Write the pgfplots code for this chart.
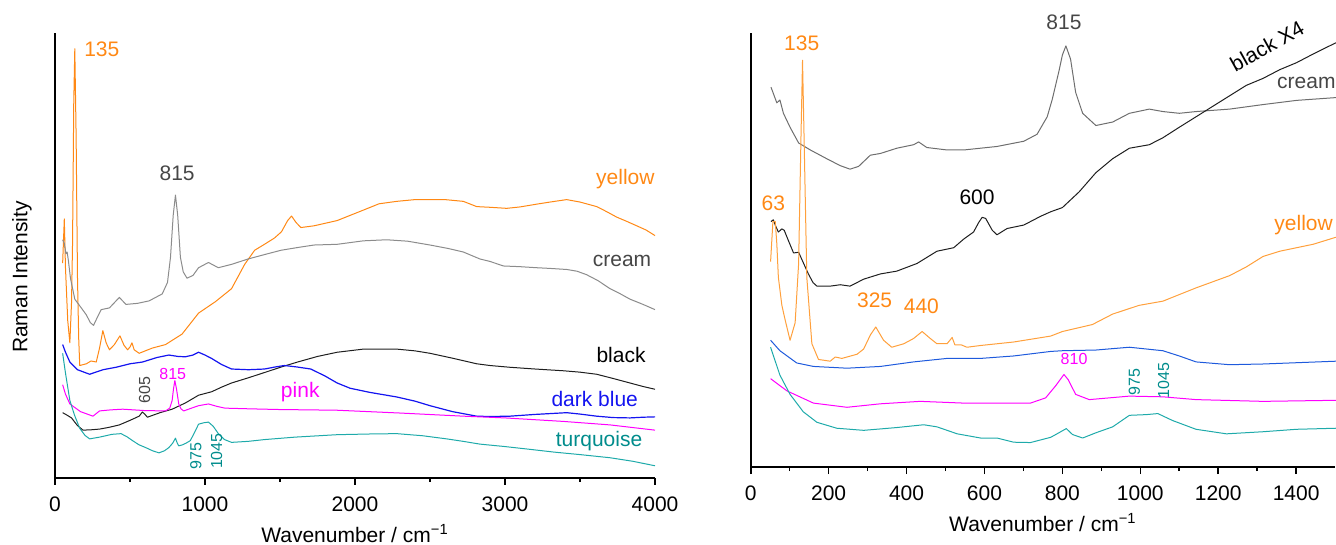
\documentclass[border=0pt]{standalone}
\usepackage{fontspec}
\setmainfont{Liberation Sans}
\usepackage{pgfplots}
\pgfplotsset{compat=1.18}
\newcommand\fa{\fontsize{10.5}{12.6}\selectfont}
\newcommand\fb{\fontsize{8}{9.6}\selectfont}
\definecolor{cor}{RGB}{255,136,20}
\definecolor{corl}{RGB}{255,160,60}
\definecolor{cgr}{RGB}{140,140,140}
\definecolor{cgr2}{RGB}{110,110,110}
\definecolor{cdg}{RGB}{70,70,70}
\definecolor{cbk}{RGB}{30,30,30}
\definecolor{cbl}{RGB}{20,20,240}
\definecolor{cbl2}{RGB}{30,90,220}
\definecolor{cpk}{RGB}{255,0,255}
\definecolor{ctl}{RGB}{30,170,170}
\definecolor{ctlt}{RGB}{0,140,140}
\pgfplotsset{
  myax/.style={
    anchor=south west, scale only axis, clip=false,
    axis x line=bottom, axis y line=left,
    axis line style={-, line width=0.8pt, black},
    ytick=\empty, tick align=outside,
    major tick length=3.5pt, minor tick length=2pt,
    every tick/.style={black, line width=0.8pt},
    minor x tick num=1,
    ticklabel style={font=\fa},
    xticklabel style={yshift=-2.5pt},
    /pgf/number format/assume math mode=true,
    /pgf/number format/set thousands separator={},
    xlabel style={font=\fa, at={(axis description cs:0.5,0)}, anchor=center, yshift=-28pt},
    xlabel={Wavenumber / cm\textsuperscript{−1}},
    every axis plot/.append style={line width=0.5pt, line join=round},
  }
}
\begin{document}
\begin{tikzpicture}
\path[use as bounding box] (0,0) rectangle (668pt,272.5pt);
\node[rotate=90, font=\fa] at (11pt,134pt) {Raman Intensity};
% ---------------- left panel
\begin{axis}[myax, at={(27.5pt,33.5pt)}, width=300pt, height=222.5pt,
  xmin=0, xmax=4000, ymin=0, ymax=1274, xtick={0,1000,2000,3000,4000}]
% yellow
\addplot[cor] coordinates {(51,615)(62,742)(70,600)(85,450)(99,387)(110,500)(117,672)(125,1072)(132,1229)(141,972)(150,572)(158,400)(165,322)(209,327)(240,335)(275,332)(297,372)(319,422)(341,387)(363,367)(396,382)(433,407)(460,380)(484,367)(500,375)(513,387)(528,367)(561,357)(649,372)(737,382)(847,412)(957,472)(1070,505)(1177,542)(1265,612)(1331,652)(1400,670)(1463,687)(1510,705)(1551,737)(1577,750)(1606,732)(1639,717)(1727,722)(1881,737)(2056,767)(2160,785)(2278,792)(2400,797)(2500,797)(2600,797)(2722,792)(2811,777)(2900,775)(3011,772)(3100,776)(3211,784)(3300,790)(3411,797)(3500,790)(3611,777)(3680,762)(3744,747)(3810,735)(3878,722)(3940,710)(4000,694)};
% cream
\addplot[cgr] coordinates {(51,682)(62,672)(73,642)(81,647)(90,620)(103,572)(132,512)(170,490)(209,467)(235,445)(257,437)(280,458)(308,482)(363,487)(429,517)(473,497)(550,500)(627,507)(715,527)(750,560)(770,632)(788,752)(803,810)(818,752)(836,632)(855,590)(880,572)(920,580)(957,602)(1023,617)(1089,602)(1180,612)(1287,627)(1400,640)(1507,652)(1620,660)(1727,667)(1881,669)(2056,679)(2211,682)(2350,678)(2500,667)(2622,657)(2722,647)(2833,627)(2900,620)(2989,607)(3100,605)(3211,602)(3300,600)(3411,597)(3480,592)(3544,582)(3620,565)(3700,542)(3770,527)(3833,512)(3920,497)(4000,482)};
% black
\addplot[cbk] coordinates {(51,187)(80,180)(110,172)(150,150)(187,137)(240,138)(297,140)(360,145)(429,152)(500,165)(561,177)(583,189)(600,182)(616,174)(700,187)(781,197)(870,215)(957,237)(1045,247)(1110,260)(1177,272)(1290,287)(1397,302)(1510,318)(1617,332)(1750,348)(1881,360)(2056,369)(2278,369)(2400,364)(2500,357)(2650,343)(2811,327)(2900,322)(3033,317)(3200,312)(3389,307)(3500,303)(3611,297)(3720,285)(3833,272)(3920,262)(4000,254)};
% dark blue
\addplot[cbl, line width=0.6pt] coordinates {(51,382)(70,360)(99,332)(150,310)(231,297)(320,310)(407,317)(500,327)(583,332)(680,345)(759,352)(820,348)(869,347)(920,352)(957,360)(1000,352)(1045,342)(1110,325)(1177,312)(1290,310)(1397,312)(1470,318)(1529,322)(1610,318)(1705,312)(1800,292)(1881,272)(1967,257)(2100,245)(2278,232)(2400,220)(2500,207)(2650,190)(2811,177)(2900,176)(3033,177)(3200,182)(3411,187)(3500,183)(3611,177)(3720,173)(3833,172)(3920,174)(4000,175)};
% pink
\addplot[cpk] coordinates {(51,267)(70,240)(99,212)(170,190)(253,177)(297,192)(370,195)(451,197)(600,193)(737,192)(765,200)(781,222)(790,255)(799,279)(810,255)(825,212)(840,198)(858,192)(910,200)(957,207)(1023,212)(1080,205)(1133,200)(1300,198)(1500,196)(1700,195)(1881,194)(2300,186)(2722,177)(3000,172)(3389,162)(3700,152)(4000,137)};
% turquoise
\addplot[ctl] coordinates {(51,357)(70,300)(99,222)(130,180)(165,142)(200,122)(231,112)(297,117)(380,125)(440,127)(480,118)(517,107)(560,95)(605,87)(650,78)(693,72)(730,78)(759,87)(785,100)(803,114)(815,100)(825,92)(850,95)(875,100)(902,107)(930,130)(957,154)(990,158)(1023,160)(1055,148)(1089,127)(1130,110)(1177,102)(1290,105)(1397,110)(1600,117)(1881,124)(2100,126)(2278,127)(2450,121)(2611,112)(2720,105)(2833,97)(3000,90)(3167,82)(3330,74)(3500,67)(3700,58)(3850,48)(4000,35)};
% labels
\node[cor, font=\fa] at (axis cs:312,1227) {135};
\node[cdg, font=\fa] at (axis cs:814,872) {815};
\node[cor, font=\fa, anchor=east] at (axis cs:4044,857) {yellow};
\node[cdg, font=\fa, anchor=east] at (axis cs:4022,622) {cream};
\node[black, font=\fa, anchor=east] at (axis cs:3984,352) {black};
\node[cbl, font=\fa, anchor=east] at (axis cs:3933,227) {dark blue};
\node[ctlt, font=\fa, anchor=east] at (axis cs:3962,107) {turquoise};
\node[cpk, font=\fa] at (axis cs:1635,245) {pink};
\node[cpk, font=\fb] at (axis cs:785,297) {815};
\node[cdg, font=\fb, rotate=90] at (axis cs:598,252) {605};
\node[ctlt, font=\fb, rotate=90] at (axis cs:939,62) {975};
\node[ctlt, font=\fb, rotate=90] at (axis cs:1078,77) {1045};
\end{axis}
% ---------------- right panel
\begin{axis}[myax, at={(375.35pt,39pt)}, width=292.2pt, height=217pt,
  xmin=0, xmax=1500, ymin=0, ymax=1243, xtick={0,200,...,1400}]
% cream
\addplot[cgr2] coordinates {(52,1088)(67,1043)(75,1051)(84,1013)(101,973)(123,928)(153,908)(195,883)(230,863)(255,853)(277,861)(307,893)(333,898)(375,913)(418,923)(431,931)(452,915)(504,908)(547,908)(632,918)(701,933)(735,953)(761,1003)(774,1053)(791,1133)(800,1180)(809,1206)(821,1168)(834,1073)(852,1013)(886,978)(929,988)(972,1013)(1023,1025)(1058,1018)(1100,1013)(1143,1018)(1229,1025)(1315,1038)(1401,1050)(1502,1058)};
% black X4
\addplot[cbk] coordinates {(52,703)(58,708)(64,690)(71,673)(80,682)(86,678)(98,645)(110,613)(123,615)(135,585)(148,553)(160,528)(170,518)(204,518)(230,522)(255,518)(290,538)(333,553)(375,561)(427,583)(478,618)(521,628)(547,653)(572,673)(585,700)(594,715)(603,712)(620,678)(632,665)(658,683)(701,693)(744,718)(770,731)(800,743)(843,788)(886,843)(929,883)(972,913)(1023,923)(1058,943)(1100,973)(1143,1003)(1186,1033)(1229,1063)(1272,1093)(1315,1113)(1358,1138)(1401,1158)(1444,1183)(1502,1215)};
% yellow
\addplot[corl] coordinates {(51,588)(57,703)(63,703)(67,640)(71,543)(80,463)(88,423)(101,363)(114,413)(123,583)(129,943)(133,1165)(137,943)(144,543)(157,353)(174,308)(204,303)(217,315)(234,311)(273,323)(290,338)(307,378)(321,401)(341,363)(362,343)(393,353)(418,368)(440,388)(461,368)(478,353)(504,353)(517,371)(524,350)(540,350)(555,343)(590,348)(675,358)(770,375)(800,388)(877,408)(929,438)(997,463)(1058,475)(1143,513)(1229,548)(1272,573)(1315,603)(1358,618)(1401,628)(1444,638)(1502,658)};
% blue
\addplot[cbl2] coordinates {(51,363)(75,333)(118,298)(161,288)(247,283)(333,288)(418,301)(504,311)(590,311)(675,318)(770,331)(800,333)(886,335)(972,343)(1058,333)(1100,318)(1143,301)(1229,293)(1315,295)(1502,303)};
% pink
\addplot[cpk] coordinates {(51,253)(93,218)(161,183)(247,171)(333,181)(435,188)(547,183)(718,183)(757,198)(783,233)(804,265)(815,250)(834,208)(869,193)(972,203)(1058,201)(1143,193)(1315,188)(1502,191)};
% turquoise
\addplot[ctl] coordinates {(51,343)(75,263)(101,208)(135,158)(170,128)(221,111)(290,105)(375,113)(444,121)(478,115)(530,95)(590,83)(632,83)(675,71)(718,70)(770,85)(791,98)(810,110)(826,93)(852,83)(886,98)(929,115)(972,148)(1015,150)(1045,153)(1083,133)(1143,108)(1221,95)(1315,101)(1401,108)(1502,111)};
% labels
\node[cor, font=\fa] at (axis cs:131,1213) {135};
\node[cor, font=\fa] at (axis cs:58,755) {63};
\node[black, font=\fa] at (axis cs:581,773) {600};
\node[cor, font=\fa] at (axis cs:318,478) {325};
\node[cor, font=\fa] at (axis cs:438,460) {440};
\node[cdg, font=\fa] at (axis cs:804,1273) {815};
\node[black, font=\fa, rotate=29, inner sep=0pt] at (axis cs:1325,1205) {black X4};
\node[cdg, font=\fa, anchor=east, inner sep=0pt] at (axis cs:1502,1101) {cream};
\node[cor, font=\fa, anchor=east, inner sep=0pt] at (axis cs:1495,693) {yellow};
\node[cpk, font=\fb] at (axis cs:830,308) {810};
\node[ctlt, font=\fb, rotate=90] at (axis cs:985,243) {975};
\node[ctlt, font=\fb, rotate=90] at (axis cs:1060,248) {1045};
\end{axis}
\end{tikzpicture}
\end{document}
